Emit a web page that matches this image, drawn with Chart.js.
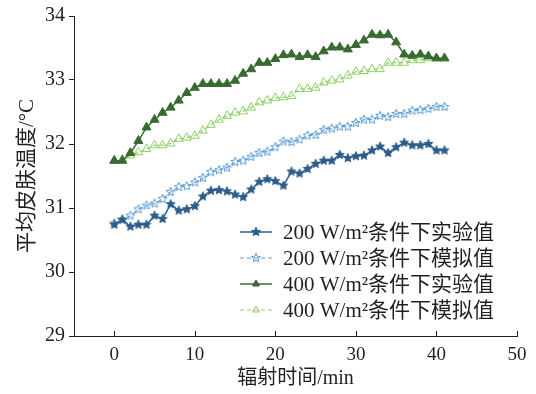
<!DOCTYPE html>
<html>
<head>
<meta charset="utf-8">
<script src="https://cdn.jsdelivr.net/npm/chart.js@4.4.1/dist/chart.umd.min.js"></script>
<style>
  html, body { margin: 0; padding: 0; background: #fff; }
  #wrap { width: 536px; height: 394px; }
</style>
</head>
<body>
<div id="wrap"><canvas id="chart" width="536" height="394"></canvas></div>
<script>
// time in minutes
const minutes = [0,1,2,3,4,5,6,7,8,9,10,11,12,13,14,15,16,17,18,19,20,
  21,22,23,24,25,26,27,28,29,30,31,32,33,34,35,36,37,38,39,40,41];

// mean skin temperature, degC
const exp200 = [30.74,30.82,30.71,30.74,30.74,30.88,30.83,31.06,30.96,30.98,31.03,
  31.18,31.27,31.28,31.26,31.21,31.17,31.29,31.41,31.45,31.42,31.35,31.57,31.54,31.61,
  31.69,31.74,31.74,31.83,31.78,31.81,31.82,31.90,31.96,31.86,31.95,32.02,31.98,31.98,
  32.00,31.90,31.90];
const sim200 = [30.76,30.81,30.88,30.98,31.04,31.07,31.14,31.25,31.33,31.34,31.40,
  31.47,31.56,31.59,31.63,31.72,31.74,31.80,31.86,31.88,31.95,32.04,32.03,32.07,32.13,
  32.14,32.22,32.24,32.27,32.27,32.33,32.38,32.38,32.44,32.42,32.47,32.47,32.52,32.53,
  32.55,32.58,32.58];
const exp400 = [31.74,31.74,31.86,32.05,32.26,32.38,32.49,32.57,32.68,32.80,32.88,
  32.94,32.94,32.94,32.94,32.99,33.10,33.17,33.27,33.27,33.33,33.39,33.40,33.36,33.39,
  33.36,33.45,33.51,33.51,33.48,33.55,33.62,33.71,33.70,33.71,33.59,33.40,33.38,33.40,
  33.37,33.34,33.34];
const sim400 = [31.74,31.76,31.82,31.87,31.92,31.98,31.98,32.01,32.08,32.10,32.13,
  32.21,32.30,32.38,32.44,32.49,32.51,32.57,32.65,32.68,32.72,32.73,32.75,32.86,32.86,
  32.88,32.96,32.99,33.01,33.07,33.13,33.14,33.17,33.17,33.27,33.27,33.27,33.31,33.31,
  33.34,33.34,33.34];

const seriesNames = ["200 W/m²条件下实验值", "200 W/m²条件下模拟值",
  "400 W/m²条件下实验值", "400 W/m²条件下模拟值"];
const xTicks = [0, 10, 20, 30, 40, 50];
const yTicks = [29, 30, 31, 32, 33, 34];

const FONT = "'Liberation Serif', 'Noto Sans CJK SC', serif";
const INK = "#231f20";

// star marker drawn on a small canvas
function starMarker(fill, stroke, r){
  const c = document.createElement("canvas");
  const s = Math.ceil(r * 2 + 2);
  c.width = s; c.height = s;
  const g = c.getContext("2d");
  g.beginPath();
  for(let i = 0; i < 10; i++){
    const rad = i % 2 ? r * 0.45 : r;
    const a = -Math.PI / 2 + i * Math.PI / 5;
    g.lineTo(s / 2 + rad * Math.cos(a), s / 2 + rad * Math.sin(a));
  }
  g.closePath();
  if(fill){ g.fillStyle = fill; g.fill(); }
  g.strokeStyle = stroke; g.lineWidth = 1; g.stroke();
  return c;
}

const pts = (ys) => minutes.map((m, i) => ({ x: m, y: ys[i] }));

const datasets = [
  { label: seriesNames[0], data: pts(exp200), borderColor: "#2b5c8a", backgroundColor: "#2b5c8a",
    borderWidth: 1.5, pointStyle: starMarker("#2b5c8a", "#2b5c8a", 4.6), pointRadius: 4.5 },
  { label: seriesNames[1], data: pts(sim200), borderColor: "#5b9bd5", backgroundColor: "#5b9bd5",
    borderWidth: 1.2, borderDash: [4, 3], pointStyle: starMarker(null, "#5b9bd5", 4.6), pointRadius: 4.5 },
  { label: seriesNames[2], data: pts(exp400), borderColor: "#386b30", backgroundColor: "#386b30",
    borderWidth: 1.5, pointStyle: "triangle", pointRadius: 5.2, pointBorderWidth: 1 },
  { label: seriesNames[3], data: pts(sim400), borderColor: "#8ccf68", backgroundColor: "rgba(255,255,255,0)",
    borderWidth: 1.2, borderDash: [4, 3], pointStyle: "triangle", pointRadius: 5, pointBorderWidth: 1 }
];

// inward tick marks on the x axis
const xInwardTicks = {
  id: "xInwardTicks",
  afterDraw(chart){
    const { ctx, scales: { x }, chartArea } = chart;
    ctx.save();
    ctx.strokeStyle = INK; ctx.lineWidth = 1;
    xTicks.forEach(v => {
      const px = Math.round(x.getPixelForValue(v)) + 0.5;
      ctx.beginPath();
      ctx.moveTo(px, chartArea.bottom);
      ctx.lineTo(px, chartArea.bottom - 5);
      ctx.stroke();
    });
    ctx.restore();
  }
};

// legend inside the plot, lower right
const innerLegend = {
  id: "innerLegend",
  afterDraw(chart){
    const { ctx } = chart;
    const x0 = 240, x1 = 272, tx = 283, y0 = 232, dy = 26;
    ctx.save();
    chart.data.datasets.forEach((ds, i) => {
      const y = y0 + i * dy;
      ctx.strokeStyle = ds.borderColor;
      ctx.lineWidth = ds.borderWidth;
      ctx.setLineDash(ds.borderDash || []);
      ctx.beginPath(); ctx.moveTo(x0, y); ctx.lineTo(x1, y); ctx.stroke();
      ctx.setLineDash([]);
      ctx.fillStyle = ds.backgroundColor;
      ctx.strokeStyle = ds.borderColor;
      ctx.lineWidth = 1;
      Chart.helpers.drawPoint(ctx, { pointStyle: ds.pointStyle, radius: 4, rotation: 0, borderWidth: 1 },
        (x0 + x1) / 2, y);
      ctx.fillStyle = INK;
      ctx.font = "21px " + FONT;
      ctx.textBaseline = "middle";
      ctx.fillText(ds.label, tx, y + 1);
    });
    ctx.restore();
  }
};

new Chart(document.getElementById("chart"), {
  type: "line",
  data: { datasets },
  options: {
    responsive: false,
    animation: false,
    layout: { padding: { top: 15, right: 19, left: 0, bottom: 0 } },
    plugins: { legend: { display: false }, tooltip: { enabled: false } },
    scales: {
      x: {
        type: "linear", min: -5, max: 50,
        afterBuildTicks: s => { s.ticks = xTicks.map(v => ({ value: v })); },
        afterFit: s => { s.height = 58; },
        grid: { drawOnChartArea: false, drawTicks: false },
        border: { color: INK, width: 1 },
        ticks: { color: INK, font: { family: FONT, size: 19 }, padding: 8 },
        title: { display: true, text: "辐射时间/min", color: INK,
          font: { family: FONT, size: 20 }, padding: { top: 0, bottom: 3 } }
      },
      y: {
        min: 29, max: 34,
        afterBuildTicks: s => { s.ticks = yTicks.map(v => ({ value: v })); },
        afterFit: s => { s.width = 74; },
        grid: { drawOnChartArea: false, tickLength: 5, color: INK },
        border: { color: INK, width: 1 },
        ticks: { color: INK, font: { family: FONT, size: 20 }, padding: 4 },
        title: { display: true, text: "平均皮肤温度/°C", color: INK,
          font: { family: FONT, size: 21 }, padding: { top: 15, bottom: 0 } }
      }
    }
  },
  plugins: [xInwardTicks, innerLegend]
});
</script>
</body>
</html>
